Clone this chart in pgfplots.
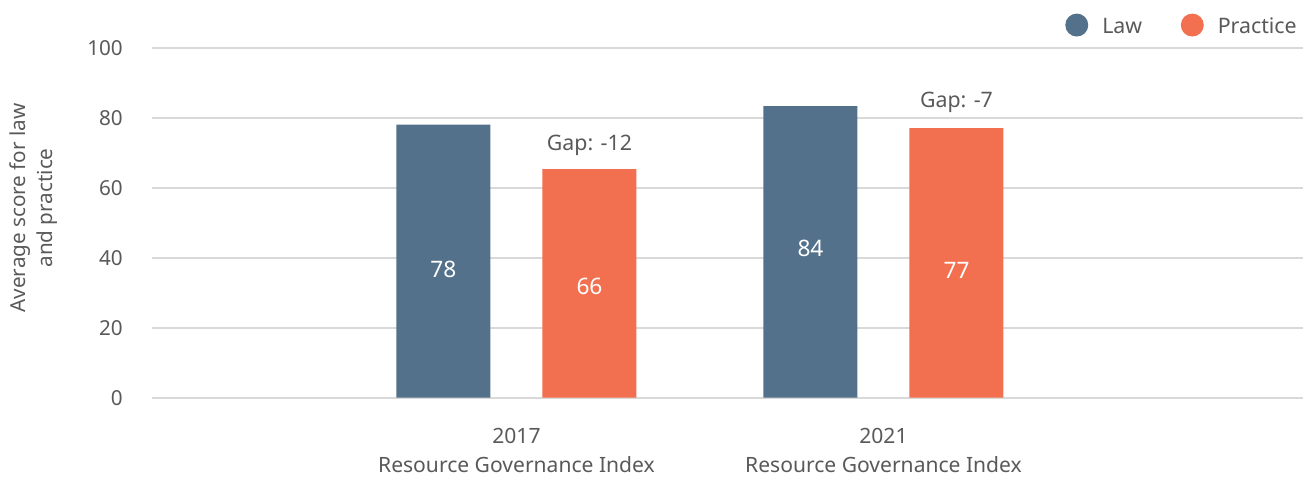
\documentclass[border=0pt]{standalone}
\usepackage{pgfplots}
\pgfplotsset{compat=1.18}
\usepackage{fontspec}
\setmainfont{Noto Sans}
\definecolor{lawc}{HTML}{53718B}
\definecolor{pracc}{HTML}{F26F4F}
\definecolor{txt}{HTML}{595959}
\definecolor{gridc}{HTML}{D9D9D9}
\begin{document}
\begin{tikzpicture}
\path[use as bounding box] (-114pt,-60.2pt) rectangle (865.5pt,298.3pt);
\begin{axis}[
  at={(0,0)}, anchor=south west,
  scale only axis, width=863.25pt, height=262.5pt,
  xmin=-0.993, xmax=2.143, ymin=0, ymax=100,
  axis line style={draw=none},
  major tick length=0pt,
  ymajorgrids, grid style={gridc, line width=1.4pt},
  ytick={0,20,40,60,80,100},
  xtick={0,1},
  xticklabels={{2017\\Resource Governance Index},{2021\\Resource Governance Index}},
  xticklabel style={align=center, text=txt, font=\fontsize{15.8pt}{21.75pt}\selectfont, anchor=north, inner sep=0pt, yshift=-23pt},
  yticklabel style={text=txt, font=\fontsize{15.5pt}{18pt}\selectfont, anchor=east, inner sep=0pt, xshift=-21.75pt},
  /pgf/number format/assume math mode=true,
  legend style={draw=none, fill=none, at={(rel axis cs:1,1)}, anchor=east, xshift=-1.5pt, yshift=17pt,
    legend columns=-1, font=\fontsize{16pt}{20pt}\selectfont, text=txt,
    nodes={inner sep=0pt},
    /tikz/every odd column/.append style={column sep=10.5pt},
    /tikz/every even column/.append style={column sep=29pt}},
  legend image code/.code={\fill[#1] (8.6pt,1pt) circle (8.6pt);},
]
\addplot[ybar, bar width=70.5pt, bar shift=-54.75pt, fill=lawc, draw=none] coordinates {(0,78) (1,83.3)};
\addlegendentry{Law}
\addplot[ybar, bar width=70.5pt, bar shift=54.75pt, fill=pracc, draw=none] coordinates {(0,65.3) (1,77)};
\addlegendentry{Practice}
\addplot[draw=none, forget plot, nodes near coords, point meta=explicit symbolic,
  nodes near coords style={text=white, font=\fontsize{17pt}{20pt}\selectfont, anchor=center, inner sep=0pt}]
  coordinates {(-0.1989,36.8)[78] (0.1989,31.7)[66] (0.8011,42.8)[84] (1.1989,36.5)[77]};
\node[text=txt, font=\fontsize{16pt}{20pt}\selectfont, inner sep=0pt] at (axis cs:0.1989,72.2) {Gap: -12};
\node[text=txt, font=\fontsize{16pt}{20pt}\selectfont, inner sep=0pt] at (axis cs:1.1989,84.3) {Gap: -7};
\end{axis}
\node[rotate=90, align=center, text=txt, font=\fontsize{15.5pt}{20.25pt}\selectfont, inner sep=0pt] at (-88.9pt,142.3pt) {Average score for law\\and practice};
\end{tikzpicture}
\end{document}
